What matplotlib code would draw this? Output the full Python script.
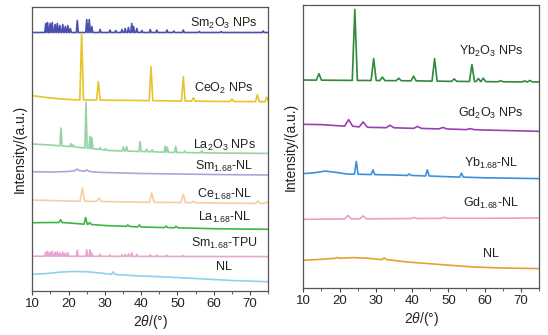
import numpy as np
import matplotlib
matplotlib.use("Agg")
import matplotlib.pyplot as plt
from matplotlib.ticker import MultipleLocator

plt.rcParams['font.family'] = ['Liberation Sans', 'DejaVu Sans']
plt.rcParams['mathtext.fontset'] = 'custom'
plt.rcParams['mathtext.rm'] = 'Liberation Sans'
plt.rcParams['mathtext.it'] = 'Liberation Sans:italic'

# ---- left panel data (baseline knots + peaks: position, height) ----
sm2o3_bx = [10, 75]
sm2o3_by = [258.5, 258.5]
sm2o3_px = [13.7, 14.2, 14.9, 15.5, 16.3, 16.9, 17.6, 18.4, 19.1, 19.8, 20.5, 22.4, 25.0, 25.7,
            26.4, 28.7, 31.4, 33.0, 34.7, 35.6, 36.5, 37.4, 37.9, 38.8, 40.2, 42.5, 44.3, 47.1,
            49.0, 51.6, 56.0, 62.0, 73.6]
sm2o3_ph = [9, 10, 9, 10, 8, 9, 7, 8, 6, 7, 4, 12, 13, 13,
            6, 3, 2.5, 2, 3, 4, 5, 9, 6, 4, 2, 3, 2.5, 2.5,
            1.5, 2.5, 1, 1, 1.5]

ceo2_bx = [10, 14, 18, 22, 30, 40, 50, 60, 75]
ceo2_by = [195.3, 193.5, 192, 191.2, 190.8, 190.5, 190, 189.6, 189.3]
ceo2_px = [23.6, 28.2, 42.7, 51.6, 54.4, 65.0, 72.0, 74.6]
ceo2_ph = [66.5, 18.5, 34, 24.3, 3.5, 2.5, 7, 4.5]

la2o3_bx = [10, 15, 20, 25, 31, 40, 50, 60, 75]
la2o3_by = [147, 146, 144.5, 143, 140.5, 139.5, 138.5, 138, 137.6]
la2o3_px = [17.9, 20.6, 21.3, 24.8, 25.9, 26.4, 28.7, 30.2, 35.1, 36.0, 39.7, 41.5, 43.0,
            46.6, 47.2, 49.5, 52.0, 56.7]
la2o3_ph = [17.8, 3, 2, 45.7, 12, 11, 2, 1.5, 4, 4.5, 10, 2.5, 2,
            6, 5, 6, 1.5, 2]

smnl_bx = [10, 15, 20, 22, 24, 27, 30, 40, 50, 60, 75]
smnl_by = [119.3, 119, 119.5, 120.5, 120, 119, 118.5, 117.5, 117, 116.5, 116]
smnl_px = [22.4, 25.0]
smnl_ph = [1.5, 1.5]

cenl_bx = [10, 20, 30, 40, 50, 60, 75]
cenl_by = [91, 90, 89.5, 88.8, 88.5, 88, 87.5]
cenl_px = [23.8, 28.4, 42.9, 51.6, 54.4, 72.2, 74.6]
cenl_ph = [13, 3.2, 9.5, 8.2, 1.5, 2.5, 1.5]

lanl_bx = [10, 15, 18, 22, 26, 30, 35, 40, 50, 60, 75]
lanl_by = [68.3, 68.5, 68.5, 67.5, 66.5, 65.5, 64.8, 64, 63.2, 62.3, 61.7]
lanl_px = [17.8, 24.7, 25.8, 36.3, 39.5, 46.9, 49.6]
lanl_ph = [2.8, 6.7, 2, 1.5, 2, 1.5, 1.5]

smtpu_bx = [10, 75]
smtpu_by = [34.8, 34.4]
smtpu_px = [13.7, 14.2, 14.9, 15.5, 16.3, 16.9, 17.6, 18.4, 19.1, 19.8, 22.4, 25.0, 25.9,
            26.4, 28.7, 31.4, 34.7, 35.6, 36.5, 37.4, 38.8, 42.5, 44.3, 47.1, 51.6]
smtpu_ph = [4, 5, 4, 5, 4, 4.5, 3.5, 4, 3, 3.5, 6, 6.5, 6.5,
            3, 2, 1.5, 1.5, 2, 2.5, 3.5, 2, 1.5, 1.2, 1.2, 1]

nll_bx = [10, 14, 18, 21, 25, 28, 31, 34, 40, 46, 55, 65, 75]
nll_by = [16.7, 17.5, 19, 19.5, 19.3, 18.3, 17, 16.2, 15, 14.2, 12.5, 10.5, 9.3]
nll_px = [32.3]
nll_ph = [2.5]

# ---- right panel data ----
yb2o3_bx = [10, 20, 30, 40, 50, 60, 75]
yb2o3_by = [208.3, 208, 207.8, 207.5, 207, 206.7, 206.3]
yb2o3_px = [14.3, 24.2, 29.4, 31.8, 36.3, 40.4, 46.2, 51.6, 56.5, 58.3, 59.6, 64.4, 71.0, 72.5]
yb2o3_ph = [6.5, 71, 22, 3.5, 2.5, 4.7, 22.5, 2.5, 17, 3, 3.5, 1, 1, 1.5]

gd2o3_bx = [10, 15, 20, 24, 28, 32, 40, 50, 60, 75]
gd2o3_by = [164, 163.7, 162.5, 162, 161, 160.7, 160, 159.3, 158.3, 157]
gd2o3_px = [22.5, 26.5, 33.9, 41.5, 48.5, 56.0]
gd2o3_ph = [6.5, 5, 2.5, 2, 1.5, 1]

ybnl_bx = [10, 13, 16, 19, 22, 28, 35, 42, 50, 60, 75]
ybnl_by = [114.7, 115.5, 117.2, 116, 114.3, 113.8, 113.3, 112.6, 111.6, 110.5, 109.7]
ybnl_px = [24.6, 29.2, 39.2, 44.2, 53.6]
ybnl_ph = [12.8, 4.8, 1.5, 6.2, 4]

gdnl_bx = [10, 20, 30, 40, 50, 60, 75]
gdnl_by = [69, 69.3, 69.5, 69.8, 70, 70, 70.3]
gdnl_px = [22.3, 26.5, 40.5, 48.9]
gdnl_ph = [3.5, 3, 1, 1]

nlr_bx = [10, 15, 19, 24, 28, 32, 38.7, 48, 57, 65, 75]
nlr_by = [28, 29, 30, 30.7, 30, 28.8, 26.3, 23.7, 21.3, 20.3, 19.7]
nlr_px = [19.4, 32.3]
nlr_ph = [0.8, 1.8]

left_labels = ['Sm$_2$O$_3$ NPs', 'CeO$_2$ NPs', 'La$_2$O$_3$ NPs', 'Sm$_{1.68}$-NL',
               'Ce$_{1.68}$-NL', 'La$_{1.68}$-NL', 'Sm$_{1.68}$-TPU', 'NL']
left_label_y = [268, 203, 146, 125, 97, 74, 48, 24]
right_labels = ['Yb$_2$O$_3$ NPs', 'Gd$_2$O$_3$ NPs', 'Yb$_{1.68}$-NL', 'Gd$_{1.68}$-NL', 'NL']
right_label_y = [237, 175, 125, 85, 34]
xticks = [10, 20, 30, 40, 50, 60, 70]


def trace(bx, by, px, ph, w):
    # polyline: baseline knots plus a narrow spike for every peak
    bx = np.asarray(bx, float)
    by = np.asarray(by, float)
    px = np.asarray(px, float)
    keep = [np.all(np.abs(px - x) > w) for x in bx]
    xs = list(bx[keep])
    ys = list(by[keep])
    for p, h in zip(px, ph):
        b = np.interp(p, bx, by)
        xs += [p - w, p, p + w]
        ys += [b, b + h, b]
    order = np.argsort(xs, kind='stable')
    return np.array(xs)[order], np.array(ys)[order]


def style(ax, ymax):
    ax.set_xlim(10, 75)
    ax.set_ylim(0, ymax)
    ax.set_yticks([])
    ax.set_xticks(xticks)
    ax.xaxis.set_minor_locator(MultipleLocator(5))
    ax.tick_params(axis='x', which='major', direction='out', length=3, width=0.8,
                   labelsize=9.5, colors='#444444', labelcolor='#222222', pad=2)
    ax.tick_params(axis='x', which='minor', direction='out', length=1.8, width=0.6,
                   colors='#444444')
    for s in ax.spines.values():
        s.set_color('#555555')
        s.set_linewidth(0.9)
    ax.set_xlabel('2$\\theta$/(°)', fontsize=10, labelpad=2, color='#222222')
    ax.set_ylabel('Intensity/(a.u.)', fontsize=10, labelpad=4, color='#222222')


fig = plt.figure(figsize=(5.48, 3.35), dpi=100)
axl = fig.add_axes([0.0589, 0.1313, 0.4306, 0.8478])
axr = fig.add_axes([0.5535, 0.1394, 0.4301, 0.8456])

left = [
    (sm2o3_bx, sm2o3_by, sm2o3_px, sm2o3_ph, 0.26, '#4a50ae'),
    (ceo2_bx, ceo2_by, ceo2_px, ceo2_ph, 0.5, '#e6c42a'),
    (la2o3_bx, la2o3_by, la2o3_px, la2o3_ph, 0.3, '#93d5a3'),
    (smnl_bx, smnl_by, smnl_px, smnl_ph, 0.6, '#aaa6db'),
    (cenl_bx, cenl_by, cenl_px, cenl_ph, 0.65, '#f5cfa2'),
    (lanl_bx, lanl_by, lanl_px, lanl_ph, 0.45, '#3db644'),
    (smtpu_bx, smtpu_by, smtpu_px, smtpu_ph, 0.25, '#e8a4d3'),
    (nll_bx, nll_by, nll_px, nll_ph, 0.5, '#8fd0ee'),
]
for bx, by, px, ph, w, c in left:
    x, y = trace(bx, by, px, ph, w)
    axl.plot(x, y, color=c, lw=1.2)

right = [
    (yb2o3_bx, yb2o3_by, yb2o3_px, yb2o3_ph, 0.7, '#30893b'),
    (gd2o3_bx, gd2o3_by, gd2o3_px, gd2o3_ph, 1.1, '#9b3fb3'),
    (ybnl_bx, ybnl_by, ybnl_px, ybnl_ph, 0.5, '#3a92dc'),
    (gdnl_bx, gdnl_by, gdnl_px, gdnl_ph, 0.9, '#f09bc9'),
    (nlr_bx, nlr_by, nlr_px, nlr_ph, 0.6, '#e6a22c'),
]
for bx, by, px, ph, w, c in right:
    x, y = trace(bx, by, px, ph, w)
    axr.plot(x, y, color=c, lw=1.2)

for t, yy in zip(left_labels, left_label_y):
    axl.text(62.9, yy, t, ha='center', va='center', fontsize=9, color='#222222')
for t, yy in zip(right_labels, right_label_y):
    axr.text(61.8, yy, t, ha='center', va='center', fontsize=9, color='#222222')

style(axl, 284)
style(axr, 283.3)

fig.savefig('out.png', dpi=100)
